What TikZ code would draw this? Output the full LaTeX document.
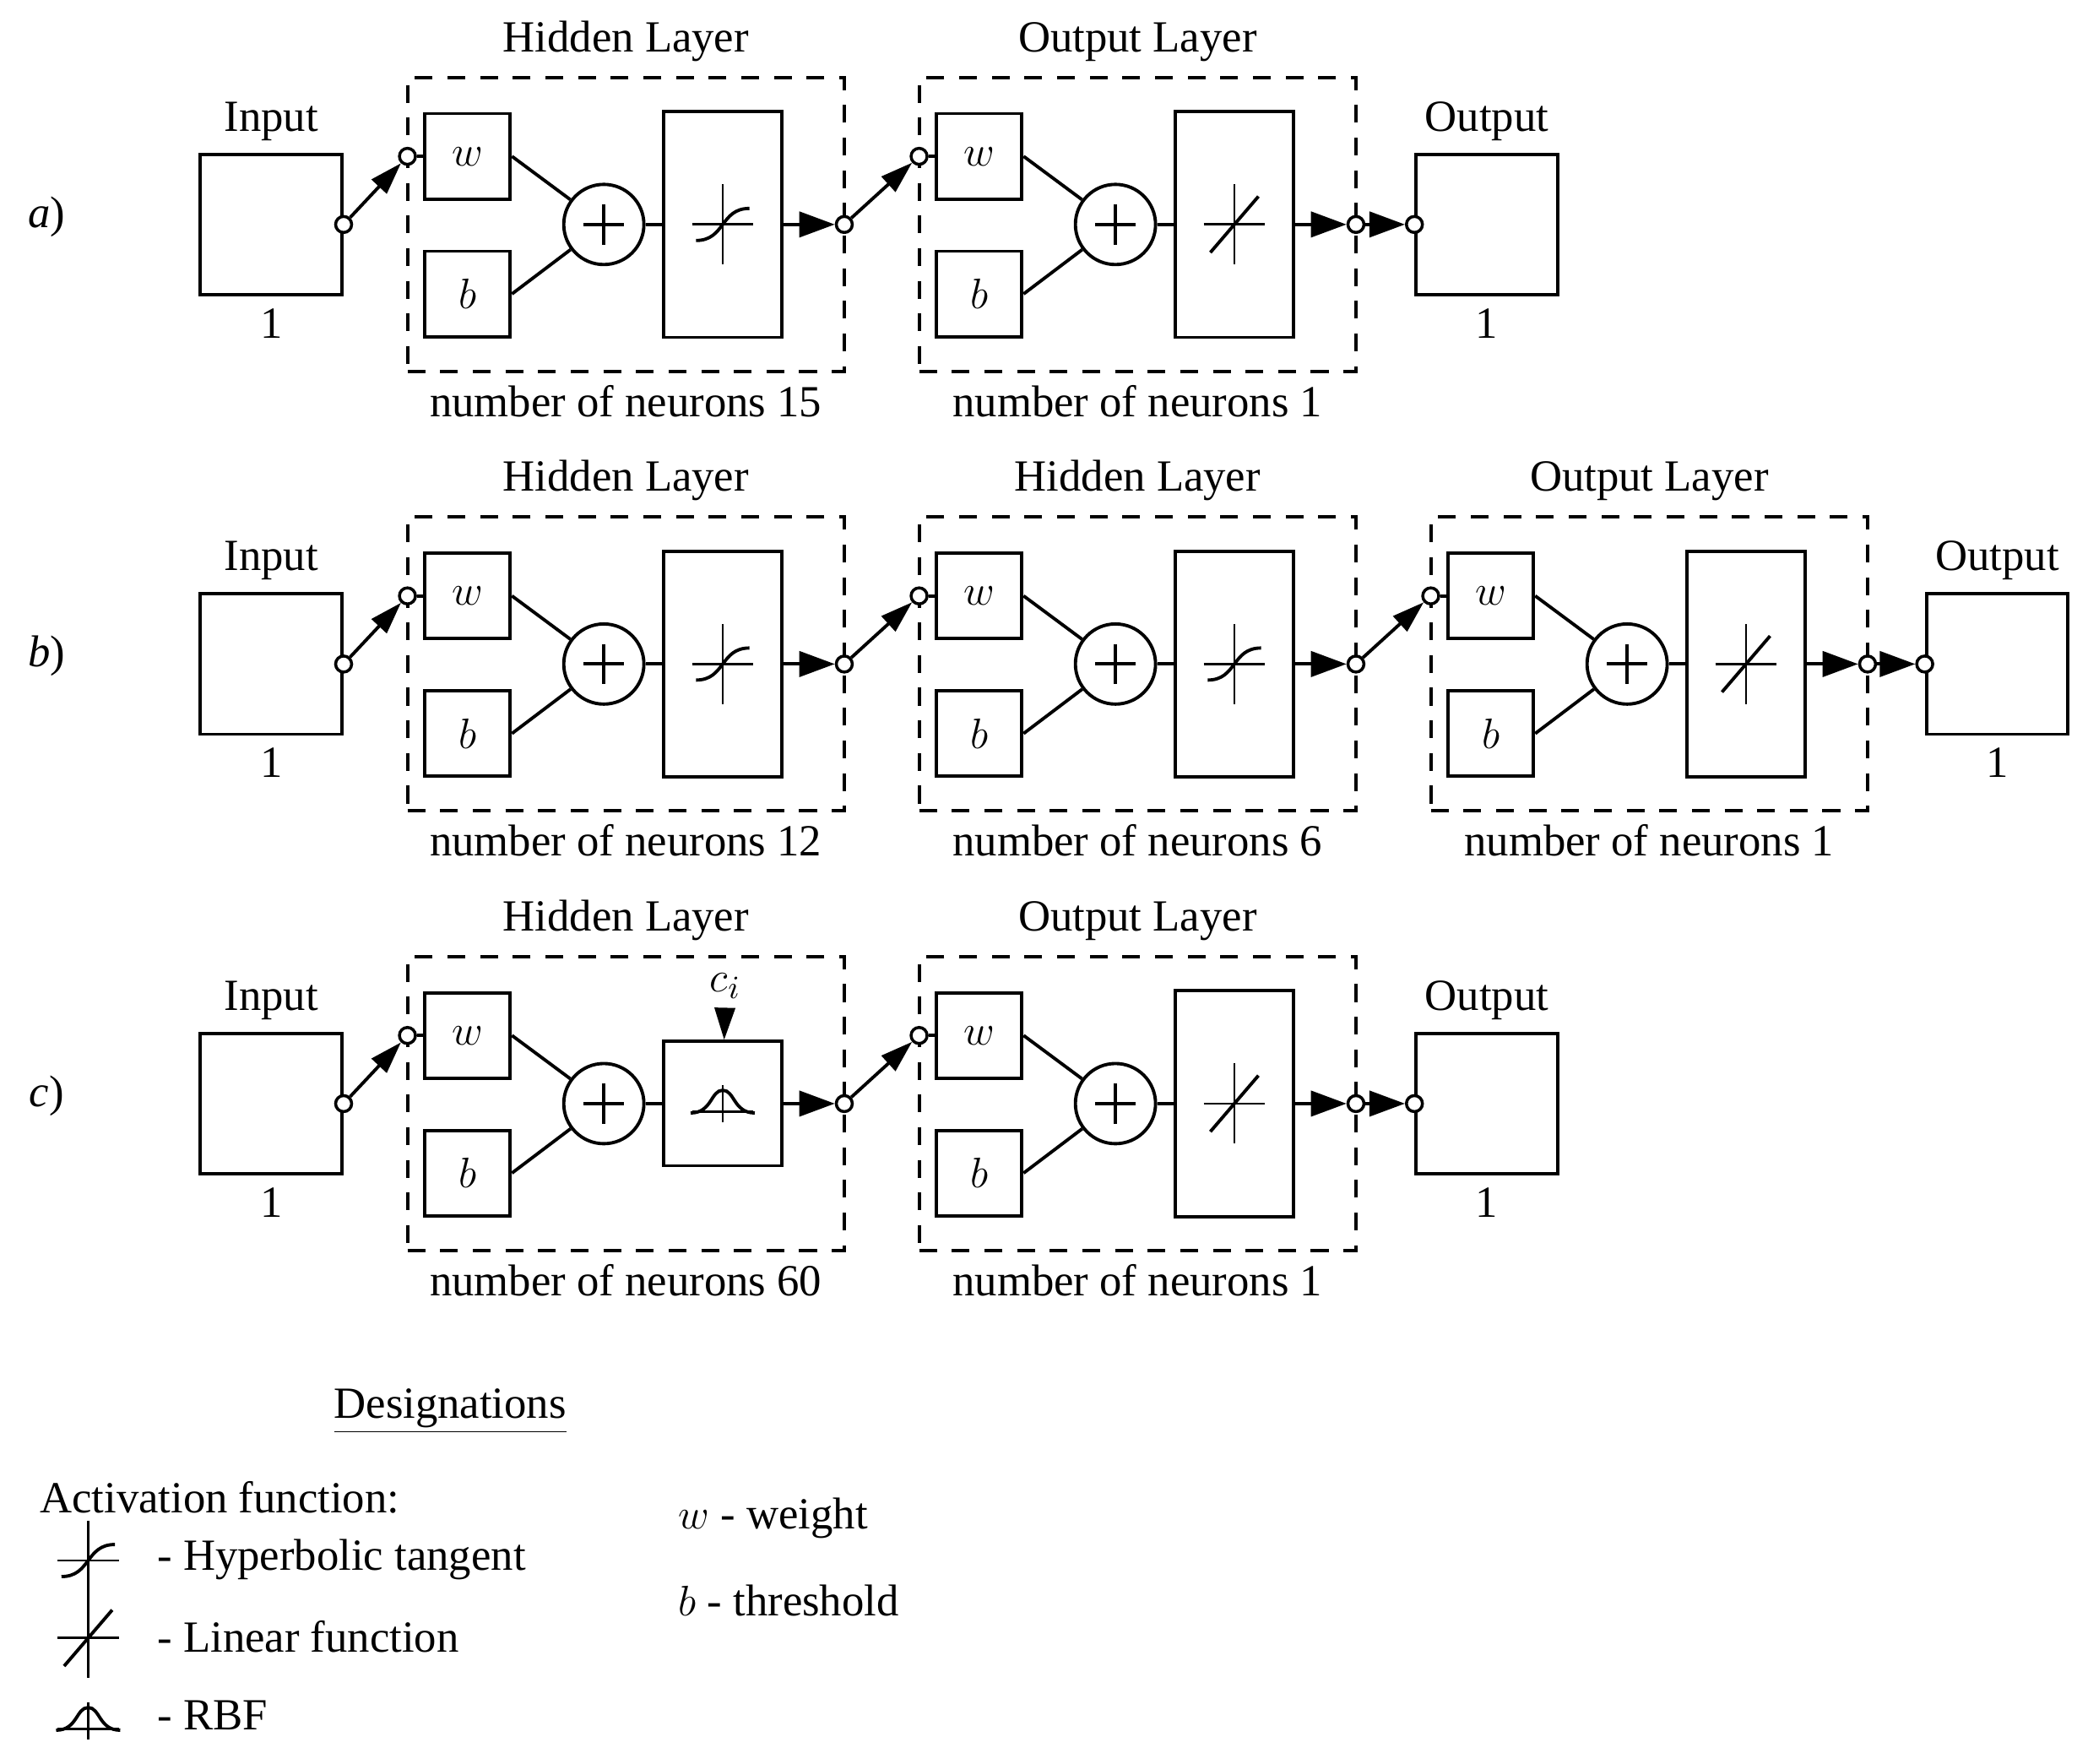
\documentclass[tikz,border=0pt]{standalone}
\usepackage{fontspec}
\setmainfont{Liberation Serif}
\usetikzlibrary{arrows.meta}

\def\u{0.01582cm}
\tikzset{
  blk/.style={draw, line width=1.1pt, inner sep=0pt, minimum width=64*\u, minimum height=64*\u},
  dbox/.style={draw, dashed, line width=1.1pt, dash pattern=on 6pt off 5pt, inner sep=0pt},
  port/.style={draw, circle, line width=1pt, fill=white, inner sep=0pt, minimum size=0.19cm},
  sumn/.style={draw, circle, line width=1.1pt, inner sep=0pt, minimum size=60*\u},
  harrow/.style={line width=1.1pt, -{Triangle[length=0.42cm,width=0.3cm]}},
  darrow/.style={line width=1.1pt, -{Triangle[length=0.38cm,width=0.24cm]}},
  tanh/.pic={\draw[line width=0.8pt] (-23,0) -- (23,0) (0,-30) -- (0,30);
    \draw[line width=1.1pt] (-20,12) .. controls (2,12) and (-2,-12) .. (20,-12);},
  lin/.pic={\draw[line width=0.8pt] (-23,0) -- (23,0) (0,-30) -- (0,30);
    \draw[line width=1.1pt] (-18,21) -- (18,-21);},
  rbf/.pic={\draw[line width=0.8pt] (-23,6) -- (23,6) (0,-14) -- (0,14);
    \draw[line width=1.1pt] (-24,7) .. controls (-8,7) and (-9,-10) .. (0,-10) .. controls (9,-10) and (8,7) .. (24,7);}
}

% one layer: name, left x, centre y, title, count, activation, block height
\newcommand\layer[7]{%
  \begin{scope}[shift={(#2,#3)}]
    \node[dbox, minimum width=327*\u, minimum height=220*\u] (#1-box) at (163.5,0) {};
    \node[above=0.05cm] (#1-title) at (#1-box.north) {#4};
    \node[below=0.02cm] (#1-num) at (#1-box.south) {number of neurons #5};
    \node[port] (#1-in) at (0,-51) {};
    \node[blk] (#1-w) at (45,-51) {$w$};
    \node[blk] (#1-b) at (45,52) {$b$};
    \node[sumn] (#1-s) at (147,0) {};
    \draw[line width=1.1pt] (#1-s.center) +(-15,0) -- +(15,0) +(0,-15) -- +(0,15);
    \node[blk, minimum width=88*\u, minimum height=#7*\u] (#1-f) at (236,0) {};
    \pic at (#1-f.center) {#6};
    \node[port] (#1-out) at (327,0) {};
    \draw[line width=1.1pt] (#1-in) -- (#1-w);
    \draw[line width=1.1pt] (#1-w.east) -- (#1-s);
    \draw[line width=1.1pt] (#1-b.east) -- (#1-s);
    \draw[line width=1.1pt] (#1-s) -- (#1-f);
    \draw[harrow] (#1-f) -- (#1-out);
  \end{scope}}

% input / output block with port
\newcommand\iobox[5]{% name, x, y, label, port side
  \node[blk, minimum width=106*\u, minimum height=105*\u] (#1) at (#2,#3) {};
  \node[above=0.02cm] (#1-lab) at (#1.north) {#4};
  \node[below=0.02cm] (#1-one) at (#1.south) {1};
  \node[port] (#1-p) at (#1.#5) {};}

\begin{document}
\begin{tikzpicture}[x=\u, y=-\u, font=\fontsize{15}{18}\selectfont]
\useasboundingbox (0,0) rectangle (1563,1320);

% row a
\node (lab-a) at (35,162) {\textit{a})};
\iobox{ina}{203}{168}{Input}{east}
\layer{ha}{305}{168}{Hidden Layer}{15}{tanh}{169}
\layer{oa}{688}{168}{Output Layer}{1}{lin}{169}
\iobox{outa}{1113}{168}{Output}{west}
\draw[darrow] (ina-p) -- (ha-in);
\draw[darrow] (ha-out) -- (oa-in);
\draw[harrow] (oa-out) -- (outa-p);

% row b
\node (lab-b) at (35,491) {\textit{b})};
\iobox{inb}{203}{497}{Input}{east}
\layer{hb}{305}{497}{Hidden Layer}{12}{tanh}{169}
\layer{hbb}{688}{497}{Hidden Layer}{6}{tanh}{169}
\layer{ob}{1071}{497}{Output Layer}{1}{lin}{169}
\iobox{outb}{1495}{497}{Output}{west}
\draw[darrow] (inb-p) -- (hb-in);
\draw[darrow] (hb-out) -- (hbb-in);
\draw[darrow] (hbb-out) -- (ob-in);
\draw[harrow] (ob-out) -- (outb-p);

% row c
\node (lab-c) at (35,820) {\textit{c})};
\iobox{inc}{203}{826}{Input}{east}
\layer{hc}{305}{826}{Hidden Layer}{60}{rbf}{93}
\layer{oc}{688}{826}{Output Layer}{1}{lin}{169}
\iobox{outc}{1113}{826}{Output}{west}
\draw[darrow] (inc-p) -- (hc-in);
\draw[darrow] (hc-out) -- (oc-in);
\draw[harrow] (oc-out) -- (outc-p);
\node (ci) at (543,738) {$c_i$};
\draw[line width=1.1pt, -{Triangle[length=0.38cm,width=0.24cm]}] (ci) -- (hc-f);

% designations
\node (des) at (337,1056) {\underline{Designations}};
\node[anchor=west] (act) at (22,1121) {Activation function:};
\pic at (66,1168) {tanh};
\pic at (66,1226) {lin};
\pic at (66,1288) {rbf};
\node[anchor=west] (l-tanh) at (110,1167) {- Hyperbolic tangent};
\node[anchor=west] (l-lin) at (110,1225) {- Linear function};
\node[anchor=west] (l-rbf) at (110,1284) {- RBF};
\node[anchor=west] (l-w) at (500,1136) {$w$ - weight};
\node[anchor=west] (l-b) at (500,1198) {$b$ - threshold};
\end{tikzpicture}
\end{document}
